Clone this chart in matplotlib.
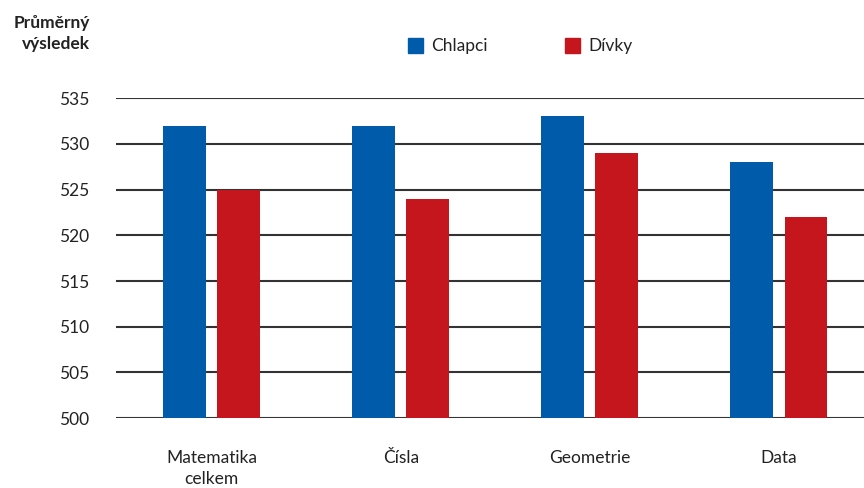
import matplotlib
matplotlib.use("Agg")
import matplotlib.pyplot as plt
from matplotlib.patches import Rectangle
import numpy as np

categories = ["Matematika\ncelkem", "Čísla", "Geometrie", "Data"]
boys = [532, 532, 533, 528]
girls = [525, 524, 529, 522]
series_names = ["Chlapci", "Dívky"]
yticks = [500, 505, 510, 515, 520, 525, 530, 535]

BLUE = "#005BAA"
RED = "#C5161E"
FS = 12.5

plt.rcParams["font.family"] = ["Lato", "DejaVu Sans"]

fig = plt.figure(figsize=(8.64, 4.88), dpi=100)
ax = fig.add_axes([0.134, 0.143, 0.866, 0.656])

x = np.arange(len(categories))
w = 0.227
off = 0.143
ax.bar(x - off, [b - 500 for b in boys], width=w, bottom=500, color=BLUE, zorder=3)
ax.bar(x + off, [g - 500 for g in girls], width=w, bottom=500, color=RED, zorder=3)

ax.set_ylim(500, 535)
ax.set_xlim(-0.508, 3.45)
ax.set_yticks(yticks)
ax.set_yticklabels([str(t) for t in yticks], fontsize=FS, color="#222222")
ax.set_xticks(x)
ax.set_xticklabels(categories, fontsize=FS, color="#222222", va="top", linespacing=1.35)
ax.tick_params(axis="both", length=0)
ax.tick_params(axis="y", pad=19)
ax.tick_params(axis="x", pad=23)
for t in yticks:
    ax.axhline(t, color="#333333", lw=1.5, zorder=2)
for s in ax.spines.values():
    s.set_visible(False)

fig.text(90 / 864, 1 - 15 / 488, "Průměrný\nvýsledek", ha="right", va="top",
         fontsize=FS, fontweight="bold", color="#222222", linespacing=1.35)

# legend
for xs, c, name in [(408, BLUE, series_names[0]), (565, RED, series_names[1])]:
    fig.patches.append(Rectangle((xs / 864, 1 - 53 / 488), 15 / 864, 15 / 488,
                                 transform=fig.transFigure, color=c))
    fig.text((xs + 23) / 864, 1 - 46 / 488, name, ha="left", va="center",
             fontsize=FS, color="#222222")

fig.savefig("out.png", dpi=100)
